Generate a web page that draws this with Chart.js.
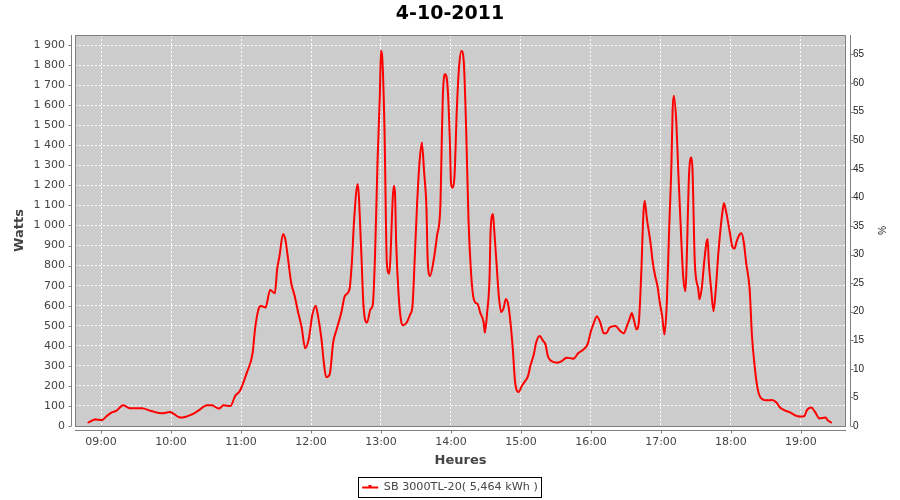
<!DOCTYPE html>
<html>
<head>
<meta charset="utf-8">
<script src="https://cdn.jsdelivr.net/npm/chart.js@4/dist/chart.umd.min.js"></script>
<style>
  html, body { margin: 0; padding: 0; background: #ffffff; }
  #c { display: block; }
</style>
</head>
<body>
<canvas id="c" width="900" height="500"></canvas>
<script>
// ---- data ----
const chartTitle = '4-10-2011';
const seriesName = 'SB 3000TL-20( 5,464 kWh )';
const times = ['08:49','08:55','09:01','09:05','09:09','09:13','09:19','09:25','09:35','09:43','09:52','09:59',
  '10:08','10:12','10:18','10:23','10:31','10:35','10:41','10:45','10:51','10:55','10:59',
  '11:05','11:10','11:12','11:15','11:17','11:21','11:25','11:29','11:31','11:33','11:36','11:38','11:40','11:43','11:46','11:49','11:52','11:55','11:58',
  '12:01','12:04','12:06','12:09','12:11','12:13','12:16','12:19','12:22','12:26','12:29','12:33','12:35','12:37','12:40','12:43','12:45','12:48','12:51','12:53','12:55','12:57','12:59',
  '13:00','13:01','13:03','13:05','13:07','13:11','13:12','13:13','13:15','13:17','13:19','13:22','13:25','13:27','13:29','13:31','13:33','13:35','13:37','13:39','13:40','13:42','13:45','13:48','13:51','13:52','13:53','13:55','13:57','13:59',
  '14:00','14:01','14:03','14:05','14:07','14:09','14:11','14:13','14:15','14:17','14:19','14:21','14:23','14:25','14:28','14:29','14:31','14:33','14:34','14:36','14:37','14:39','14:41','14:43','14:45','14:47','14:49','14:51','14:53','14:55','14:58',
  '15:01','15:03','15:06','15:08','15:11','15:13','15:16','15:19','15:21','15:23','15:26','15:31','15:35','15:39','15:45','15:49','15:53','15:57',
  '16:00','16:02','16:05','16:08','16:11','16:13','16:16','16:21','16:25','16:28','16:31','16:33','16:35','16:37','16:39','16:41','16:43','16:45','16:46','16:48','16:51','16:53','16:55','16:57','16:59',
  '17:01','17:03','17:05','17:07','17:09','17:10','17:11','17:13','17:15','17:17','17:19','17:21','17:22','17:24','17:26','17:27','17:29','17:32','17:33','17:35','17:37','17:39','17:40','17:41','17:43','17:45','17:47','17:49','17:51','17:53','17:54','17:56','17:59',
  '18:01','18:03','18:05','18:07','18:09','18:11','18:13','18:16','18:18','18:20','18:22','18:24','18:27','18:31','18:35','18:39','18:42','18:46','18:51','18:55','18:59',
  '19:03','19:05','19:09','19:12','19:16','19:21','19:23','19:26'];
const watts = [17,33,30,50,67,75,103,88,88,75,63,70,
  42,45,58,75,103,103,87,103,100,150,175,
  266,366,482,582,599,591,678,662,782,848,956,931,848,715,648,566,491,388,432,
  549,599,549,432,316,244,258,416,482,566,648,682,815,1031,1206,881,599,516,582,607,873,1314,1646,
  1870,1845,1480,815,760,1197,1164,915,665,532,502,516,557,599,848,1114,1314,1413,1264,1081,831,748,823,948,1114,1397,1646,1754,1696,1430,
  1214,1189,1247,1580,1796,1870,1812,1480,1031,782,648,615,607,566,516,466,566,732,981,1056,981,815,648,569,586,632,607,516,383,216,170,
  203,219,249,299,358,416,449,424,407,349,324,316,324,341,336,363,379,407,
  474,507,546,516,462,462,491,499,474,462,502,532,562,524,482,516,748,1064,1122,1031,915,815,748,698,615,
  549,457,615,981,1314,1580,1646,1530,1247,981,748,673,815,1247,1339,1280,815,682,632,690,815,915,931,815,682,574,682,848,981,1081,1111,1064,965,
  898,885,923,951,961,915,815,682,449,316,216,158,133,128,130,117,92,78,67,53,47,
  50,78,92,70,38,42,28,17];
const hourTicks = ['09:00','10:00','11:00','12:00','13:00','14:00','15:00','16:00','17:00','18:00','19:00'];
const wattTicks = [0,100,200,300,400,500,600,700,800,900,1000,1100,1200,1300,1400,1500,1600,1700,1800,1900];
const pctTicks = [0,5,10,15,20,25,30,35,40,45,50,55,60,65];

// ---- helpers ----
const toMin = s => { const [h, m] = s.split(':').map(Number); return h * 60 + m; };
const fmtTime = v => { const h = Math.floor(v / 60), m = Math.round(v % 60); return String(h).padStart(2,'0') + ':' + String(m).padStart(2,'0'); };
const fmtWatt = v => v >= 1000 ? Math.floor(v / 1000) + ' ' + String(v % 1000).padStart(3, '0') : String(v);
const points = times.map((t, i) => ({ x: toMin(t), y: watts[i] }));

const FONT = "'DejaVu Sans', sans-serif";
const AREA = { left: 75, right: 846, top: 35, bottom: 426 };
const RED = '#ff0000';

const deco = {
  id: 'deco',
  beforeDraw(chart) {
    const { ctx, chartArea: a } = chart;
    ctx.save();
    ctx.fillStyle = '#ffffff';
    ctx.fillRect(0, 0, chart.width, chart.height);
    ctx.fillStyle = '#cccccc';
    ctx.fillRect(a.left, a.top, a.right - a.left, a.bottom - a.top);
    ctx.restore();
  },
  afterDraw(chart) {
    const { ctx, chartArea: a, scales } = chart;
    ctx.save();
    ctx.strokeStyle = '#808080';
    ctx.lineWidth = 1;
    // plot outline
    ctx.strokeRect(Math.round(a.left) + 0.5, Math.round(a.top) + 0.5,
      Math.round(a.right - a.left) - 1, Math.round(a.bottom - a.top));
    // offset axis lines
    const lx = Math.round(a.left) - 4 + 0.5;
    const rx = Math.round(a.right) + 4 + 0.5;
    const by = Math.round(a.bottom) + 4 + 0.5;
    ctx.beginPath();
    ctx.moveTo(lx, a.top); ctx.lineTo(lx, a.bottom);
    ctx.moveTo(rx, a.top); ctx.lineTo(rx, a.bottom);
    ctx.moveTo(a.left, by); ctx.lineTo(a.right, by);
    scales.y.ticks.forEach(t => { const p = Math.round(scales.y.getPixelForValue(t.value)) + 0.5; ctx.moveTo(lx - 3, p); ctx.lineTo(lx, p); });
    scales.y2.ticks.forEach(t => { const p = Math.round(scales.y2.getPixelForValue(t.value)) + 0.5; ctx.moveTo(rx, p); ctx.lineTo(rx + 3, p); });
    scales.x.ticks.forEach(t => { const p = Math.round(scales.x.getPixelForValue(t.value)) + 0.5; ctx.moveTo(p, by); ctx.lineTo(p, by + 3); });
    ctx.stroke();
    // legend frame + marker dot on the sample line
    const lg = chart.legend;
    if (lg && lg.legendHitBoxes && lg.legendHitBoxes.length) {
      const hb = lg.legendHitBoxes[0];
      ctx.strokeStyle = '#000000';
      ctx.strokeRect(Math.round(hb.left) - 3.5, Math.round(hb.top) - 4.5, Math.round(hb.width) + 7, Math.round(hb.height) + 9);
      ctx.fillStyle = RED;
      ctx.fillRect(Math.round(hb.left + 8) - 1.5, Math.round(hb.top + hb.height / 2) - 2, 3, 3);
    }
    ctx.restore();
  }
};

new Chart(document.getElementById('c'), {
  type: 'line',
  data: {
    datasets: [{
      label: seriesName,
      data: points,
      borderColor: RED,
      backgroundColor: RED,
      borderWidth: 2,
      pointRadius: 0.8,
      pointBorderWidth: 0,
      pointBackgroundColor: RED,
      fill: false,
      cubicInterpolationMode: 'monotone',
      yAxisID: 'y'
    }]
  },
  options: {
    responsive: false,
    animation: false,
    devicePixelRatio: 1,
    layout: { padding: { left: 0, right: 0, top: 0, bottom: -3 } },
    plugins: {
      tooltip: { enabled: false },
      title: {
        display: true,
        text: chartTitle,
        color: '#000000',
        font: { family: FONT, size: 19, weight: 'bold' },
        padding: { top: 3, bottom: 9.2 }
      },
      legend: {
        display: true,
        position: 'bottom',
        labels: {
          usePointStyle: true,
          pointStyle: 'line',
          pointStyleWidth: 16,
          padding: 5,
          color: '#444444',
          font: { family: FONT, size: 11.2 },
          generateLabels: chart => Chart.defaults.plugins.legend.labels.generateLabels(chart)
            .map(l => Object.assign(l, { lineWidth: 2, strokeStyle: RED, fillStyle: RED, pointStyle: 'line' }))
        }
      }
    },
    scales: {
      x: {
        type: 'linear',
        min: 517.7,
        max: 1178.6,
        afterBuildTicks: s => { s.ticks = hourTicks.map(h => ({ value: toMin(h) })); },
        afterFit: s => { const lh = (s.chart.legend && s.chart.legend.height) || 26.5; s.height = 503 - lh - AREA.bottom; },
        ticks: { callback: v => fmtTime(v), color: '#444444', padding: 10, maxRotation: 0, autoSkip: false, font: { family: FONT, size: 11 } },
        grid: { display: true, drawTicks: false, color: 'rgba(255,255,255,0.95)', lineWidth: 1 },
        border: { display: false, dash: [2, 2] },
        title: { display: true, text: 'Heures', color: '#444444', font: { family: FONT, size: 13, weight: 'bold' }, padding: { top: 0, bottom: 8.7 } }
      },
      y: {
        type: 'linear',
        position: 'left',
        min: 0,
        max: 1950,
        afterBuildTicks: s => { s.ticks = wattTicks.map(v => ({ value: v })); },
        afterFit: s => { s.width = AREA.left; },
        ticks: { callback: v => fmtWatt(v), color: '#444444', padding: 10, autoSkip: false, font: { family: FONT, size: 11 } },
        grid: { display: true, drawTicks: false, color: 'rgba(255,255,255,0.95)', lineWidth: 1 },
        border: { display: false, dash: [2, 2] },
        title: { display: true, text: 'Watts', color: '#444444', font: { family: FONT, size: 13, weight: 'bold' }, padding: { top: 12.2, bottom: 0 } }
      },
      y2: {
        type: 'linear',
        position: 'right',
        min: 0,
        max: 68.4,
        afterBuildTicks: s => { s.ticks = pctTicks.map(v => ({ value: v })); },
        afterFit: s => { s.width = 900 - AREA.right; },
        ticks: { color: '#222222', padding: 7, autoSkip: false, font: { family: "'Liberation Sans', sans-serif", size: 10 } },
        grid: { display: false, drawOnChartArea: false, drawTicks: false },
        border: { display: false },
        title: { display: true, text: '%', color: '#222222', font: { family: "'Liberation Sans', sans-serif", size: 10 }, padding: { top: 13.5, bottom: 0 } }
      }
    }
  },
  plugins: [deco]
});
</script>
</body>
</html>
